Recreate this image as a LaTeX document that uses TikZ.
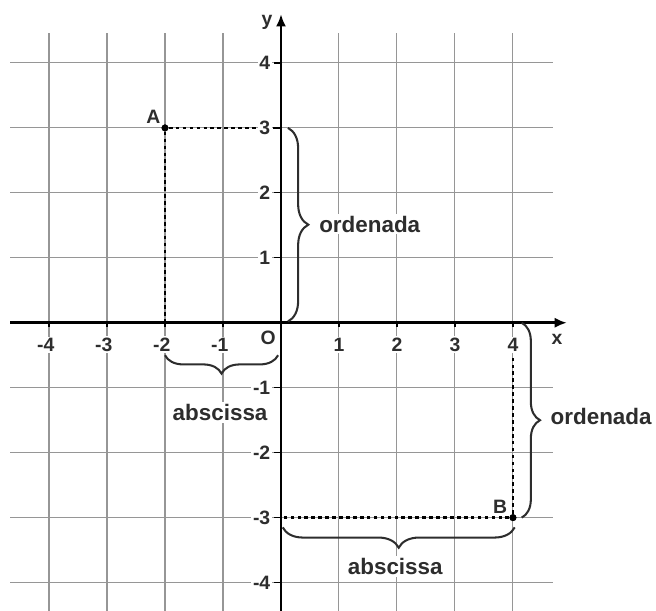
\documentclass[tikz,border=0pt]{standalone}
\usepackage{fontspec}
\setmainfont{Liberation Sans}
\usepackage{tikz}
\usetikzlibrary{arrows.meta, positioning, decorations.pathreplacing}
\definecolor{GridGray}{RGB}{150, 150, 150}
\definecolor{InkGray}{RGB}{45, 45, 45}

\begin{document}
\begin{tikzpicture}[
          x=1cm, y=1.12cm,
          gridline/.style={draw=GridGray, line width=0.5pt},
          axis/.style={draw=black, line width=1.4pt, -{Latex[length=6pt, width=5pt]}},
          tickmark/.style={black, line width=0.6pt},
          ticklbl/.style={font=\fontsize{9.5}{10}\selectfont\bfseries, text=InkGray,
                          fill=white, inner sep=0.8pt},
          lbl/.style={font=\fontsize{11}{13}\selectfont\bfseries, text=InkGray,
                      fill=white, inner sep=1pt},
          proj/.style={black, line width=1.2pt, dash pattern=on 1.8pt off 1.6pt},
          bracebox/.style={draw=InkGray, line width=1pt, decorate,
                           decoration={brace, amplitude=#1}},
          ptdot/.style={circle, fill=black, inner sep=0pt, minimum size=3.4pt}
        ]
        \useasboundingbox (-4.845,-4.431) rectangle (6.466,4.969);
        % grid
        \foreach \i in {-4,...,4} {
          \draw[gridline] (\i,-4.45) -- (\i,4.46);
          \draw[gridline] (-4.67,\i) -- (4.69,\i);
        }
        % points and projections
        \coordinate (Ay) at (0,3);
        \coordinate (Ax) at (-2,0);
        \coordinate (By) at (0,-3);
        \coordinate (Bx) at (4,-0.5);
        \node[ptdot] (A) at (-2,3) {};
        \node[ptdot] (B) at (4,-3) {};
        \draw[proj] (A) -- (Ay);
        \draw[proj] (A) -- (Ax);
        \draw[proj] (B) -- (By);
        \draw[proj] (B) -- (Bx);
        % axes
        \coordinate (xs) at (-4.67,0);
        \coordinate (xe) at (4.93,0);
        \coordinate (ys) at (0,-4.45);
        \coordinate (ye) at (0,4.75);
        \draw[axis] (xs) -- (xe);
        \draw[axis] (ys) -- (ye);
        % ticks
        \foreach \i in {1,...,4} {
          \draw[tickmark] (\i,0) -- (\i,-0.07);
          \draw[tickmark] (-\i,0) -- (-\i,-0.07);
          \draw[tickmark] (0,\i) -- (-0.12,\i);
          \draw[tickmark] (0,-\i) -- (-0.12,-\i);
          \node[ticklbl] (xp\i) at (\i,-0.34) {\i};
          \node[ticklbl] (xm\i) at (-\i,-0.34) {\llap{-}\i};
          \node[ticklbl, anchor=east] (yp\i) at (-0.15,\i) {\i};
          \node[ticklbl, anchor=east] (ym\i) at (-0.15,-\i) {-\i};
        }
        \node[ticklbl] (orig) at (-0.22,-0.23) {O};
        \node[ticklbl] (xlbl) at (4.76,-0.26) {x};
        \node[ticklbl] (ylbl) at (-0.24,4.62) {y};
        \node[ticklbl] (Alb) at (-2.2,3.17) {A};
        \node[ticklbl] (Blb) at (3.78,-2.83) {B};
        % braces
        \coordinate (b1s) at (0.12,3);
        \coordinate (b1e) at (0.12,0.02);
        \coordinate (b2s) at (4.15,0);
        \coordinate (b2e) at (4.15,-3);
        \coordinate (b3s) at (-0.05,-0.5);
        \coordinate (b3e) at (-2,-0.5);
        \coordinate (b4s) at (4.03,-3.15);
        \coordinate (b4e) at (0.03,-3.15);
        \draw[bracebox=10pt] (b1s) -- (b1e);
        \draw[bracebox=9pt] (b2s) -- (b2e);
        \draw[bracebox=9pt] (b3s) -- (b3e);
        \draw[bracebox=10pt] (b4s) -- (b4e);
        \node[lbl] (ord1) at (1.53,1.52) {ordenada};
        \node[lbl] (ord2) at (5.52,-1.45) {ordenada};
        \node[lbl] (abs1) at (-1.05,-1.38) {abscissa};
        \node[lbl] (abs2) at (1.97,-3.75) {abscissa};
        \node[ptdot] at (A) {};
        \node[ptdot] at (B) {};
      \end{tikzpicture}
\end{document}
